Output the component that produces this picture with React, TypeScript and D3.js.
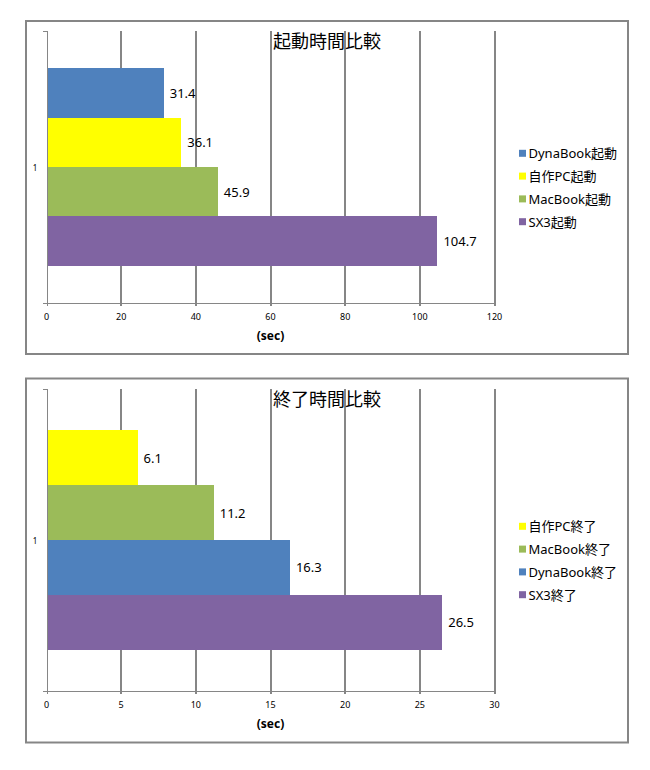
import React from "react";
import * as d3 from "d3";

// chart data
const categories = ["1"];
const axisTitle = "(sec)";

const startupTitle = "起動時間比較";
const startupSeries = ["DynaBook起動", "自作PC起動", "MacBook起動", "SX3起動"];
const startupMachines = ["DynaBook", "自作PC", "MacBook", "SX3"];
const startupValues = [31.4, 36.1, 45.9, 104.7];
const startupTicks = [0, 20, 40, 60, 80, 100, 120];

const shutdownTitle = "終了時間比較";
const shutdownSeries = ["自作PC終了", "MacBook終了", "DynaBook終了", "SX3終了"];
const shutdownMachines = ["自作PC", "MacBook", "DynaBook", "SX3"];
const shutdownValues = [6.1, 11.2, 16.3, 26.5];
const shutdownTicks = [0, 5, 10, 15, 20, 25, 30];

// Excel 2007 default palette, one colour per machine
const machineColor: Record<string, string> = {
  DynaBook: "#4F81BD",
  自作PC: "#FFFF00",
  MacBook: "#9BBB59",
  SX3: "#8064A2",
};

const GRID = "#868686";
const FONT = "'Noto Sans', 'Noto Sans CJK JP', sans-serif";
const CJK = "'Noto Sans CJK JP', sans-serif";

interface Frame {
  x: number;
  y: number;
  w: number;
  h: number;
}

interface PanelProps {
  title: string;
  series: string[];
  machines: string[];
  values: number[];
  ticks: number[];
  frame: Frame;
  plotTop: number;
  plotBottom: number;
}

const PLOT_LEFT = 46.5;
const PLOT_RIGHT = 494.5;

const BarPanel: React.FC<PanelProps> = ({
  title,
  series,
  machines,
  values,
  ticks,
  frame,
  plotTop,
  plotBottom,
}) => {
  const x = d3
    .scaleLinear()
    .domain([ticks[0], ticks[ticks.length - 1]])
    .range([PLOT_LEFT, PLOT_RIGHT]);

  // gap width 150% -> bars fill 4 / 5.5 of the category band
  const y = d3
    .scaleBand<string>()
    .domain(categories)
    .range([plotTop, plotBottom])
    .paddingInner(0)
    .paddingOuter(0.1875);

  const inner = d3
    .scaleBand<string>()
    .domain(series)
    .range([0, y.bandwidth()])
    .padding(0);

  const legendStep = 22.8;
  const legendTop =
    frame.y + frame.h / 2 - ((series.length - 1) * legendStep) / 2;

  return (
    <g>
      <rect
        x={frame.x}
        y={frame.y}
        width={frame.w}
        height={frame.h}
        fill="#fff"
        stroke={GRID}
        strokeWidth={2}
      />

      {/* vertical gridlines */}
      {ticks.slice(1).map((t) => (
        <line
          key={`g${t}`}
          x1={Math.round(x(t))}
          x2={Math.round(x(t))}
          y1={plotTop}
          y2={plotBottom + 3}
          stroke={GRID}
          strokeWidth={2}
          shapeRendering="crispEdges"
        />
      ))}

      <text
        x={frame.x + frame.w / 2}
        y={plotTop + 9}
        textAnchor="middle"
        dominantBaseline="central"
        fontFamily={CJK}
        fontSize={18}
        fill="#000"
      >
        {title}
      </text>

      {/* bars */}
      {categories.map((c) =>
        series.map((s, i) => (
          <g key={`${c}-${s}`}>
            <rect
              x={x(0)}
              y={(y(c) ?? 0) + (inner(s) ?? 0)}
              width={x(values[i]) - x(0)}
              height={inner.bandwidth()}
              fill={machineColor[machines[i]]}
              shapeRendering="crispEdges"
            />
            <text
              x={x(values[i]) + 6}
              y={(y(c) ?? 0) + (inner(s) ?? 0) + inner.bandwidth() / 2}
              dominantBaseline="central"
              fontFamily={FONT}
              fontSize={13}
              fill="#000"
            >
              {values[i]}
            </text>
          </g>
        ))
      )}

      {/* axes */}
      <line
        x1={PLOT_LEFT - 3.5}
        x2={PLOT_RIGHT}
        y1={plotBottom}
        y2={plotBottom}
        stroke={GRID}
        strokeWidth={1}
        shapeRendering="crispEdges"
      />
      <line
        x1={Math.round(x(0))}
        x2={Math.round(x(0))}
        y1={plotTop}
        y2={plotBottom + 3}
        stroke={GRID}
        strokeWidth={1}
        shapeRendering="crispEdges"
      />
      <line
        x1={PLOT_LEFT - 3.5}
        x2={PLOT_LEFT}
        y1={plotTop}
        y2={plotTop}
        stroke={GRID}
        strokeWidth={1}
        shapeRendering="crispEdges"
      />
      {ticks.map((t) => (
        <text
          key={`t${t}`}
          x={x(t)}
          y={plotBottom + 13}
          textAnchor="middle"
          dominantBaseline="central"
          fontFamily={FONT}
          fontSize={9}
          fill="#000"
        >
          {t}
        </text>
      ))}
      {categories.map((c) => (
        <text
          key={`c${c}`}
          x={35}
          y={(y(c) ?? 0) + y.bandwidth() / 2}
          textAnchor="middle"
          dominantBaseline="central"
          fontFamily={FONT}
          fontSize={8}
          fill="#000"
        >
          {c}
        </text>
      ))}
      <text
        x={(PLOT_LEFT + PLOT_RIGHT) / 2}
        y={plotBottom + 32}
        textAnchor="middle"
        dominantBaseline="central"
        fontFamily={FONT}
        fontSize={12}
        fontWeight="bold"
        fill="#000"
      >
        {axisTitle}
      </text>

      {/* legend */}
      {series.map((s, i) => (
        <g key={`l${s}`} transform={`translate(519, ${legendTop + i * legendStep})`}>
          <rect
            x={0}
            y={-3.5}
            width={7}
            height={7}
            fill={machineColor[machines[i]]}
          />
          <text
            x={9.5}
            y={0}
            dominantBaseline="central"
            fontFamily={FONT}
            fontSize={13}
            fill="#000"
          >
            {s}
          </text>
        </g>
      ))}
    </g>
  );
};

export default function App() {
  return (
    <svg
      width={650}
      height={770}
      viewBox="0 0 650 770"
      style={{ position: "absolute", left: 0, top: 0, background: "#fff" }}
    >
      <rect x={0} y={0} width={650} height={770} fill="#fff" />
      <BarPanel
        title={startupTitle}
        series={startupSeries}
        machines={startupMachines}
        values={startupValues}
        ticks={startupTicks}
        frame={{ x: 26, y: 21, w: 602, h: 333 }}
        plotTop={31}
        plotBottom={303}
      />
      <BarPanel
        title={shutdownTitle}
        series={shutdownSeries}
        machines={shutdownMachines}
        values={shutdownValues}
        ticks={shutdownTicks}
        frame={{ x: 26, y: 378.5, w: 602, h: 364 }}
        plotTop={389}
        plotBottom={691}
      />
    </svg>
  );
}
